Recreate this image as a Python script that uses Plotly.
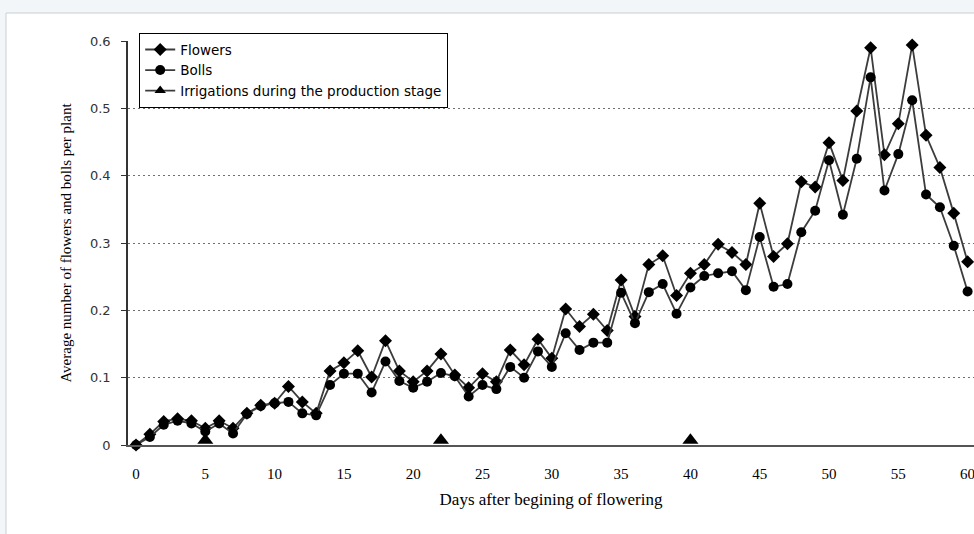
import plotly.graph_objects as go

days = list(range(0, 61))
flowers = [0.000, 0.016, 0.035, 0.039, 0.036, 0.025, 0.036, 0.025, 0.047, 0.059,
           0.062, 0.087, 0.064, 0.047, 0.110, 0.122, 0.140, 0.101, 0.155, 0.110,
           0.094, 0.110, 0.135, 0.104, 0.085, 0.106, 0.094, 0.141, 0.119, 0.157,
           0.129, 0.202, 0.176, 0.194, 0.170, 0.245, 0.191, 0.268, 0.281, 0.222,
           0.255, 0.268, 0.298, 0.286, 0.268, 0.359, 0.280, 0.299, 0.391, 0.383,
           0.449, 0.393, 0.496, 0.590, 0.431, 0.477, 0.594, 0.460, 0.412, 0.344,
           0.272]
bolls = [0.000, 0.012, 0.030, 0.036, 0.032, 0.020, 0.032, 0.017, 0.046, 0.058,
         0.062, 0.064, 0.047, 0.044, 0.089, 0.106, 0.106, 0.078, 0.124, 0.095,
         0.085, 0.094, 0.107, 0.102, 0.072, 0.089, 0.083, 0.116, 0.100, 0.139,
         0.116, 0.166, 0.141, 0.152, 0.152, 0.226, 0.181, 0.227, 0.239, 0.195,
         0.234, 0.251, 0.255, 0.258, 0.230, 0.309, 0.235, 0.239, 0.316, 0.348,
         0.423, 0.342, 0.425, 0.546, 0.378, 0.432, 0.512, 0.372, 0.353, 0.296,
         0.228]
irrigation_days = [5, 22, 40]
irrigation_y = [0.007, 0.007, 0.007]

x_ticks = list(range(0, 61, 5))
y_ticks = [0, 0.1, 0.2, 0.3, 0.4, 0.5, 0.6]
y_tick_labels = ["0", "0.1", "0.2", "0.3", "0.4", "0.5", "0.6"]

series_names = ["Flowers", "Bolls", "Irrigations during the production stage"]

line_color = "#3c3c3c"

fig = go.Figure()
fig.add_trace(go.Scatter(
    x=days, y=flowers, name=series_names[0], mode="lines+markers",
    line=dict(color=line_color, width=1.8),
    marker=dict(symbol="diamond", size=10, color="black"),
    cliponaxis=False))
fig.add_trace(go.Scatter(
    x=days, y=bolls, name=series_names[1], mode="lines+markers",
    line=dict(color=line_color, width=1.8),
    marker=dict(symbol="circle", size=10, color="black"),
    cliponaxis=False))
fig.add_trace(go.Scatter(
    x=irrigation_days, y=irrigation_y, name=series_names[2],
    mode="markers", showlegend=False,
    marker=dict(symbol="triangle-up", size=14, color="black"),
    cliponaxis=False))
# legend-only entry (line + triangle, as in the original legend)
fig.add_trace(go.Scatter(
    x=[None], y=[None], name=series_names[2], mode="lines+markers",
    line=dict(color=line_color, width=1.8),
    marker=dict(symbol="triangle-up", size=10, color="black")))

# white panel on light page background
L, R, T, B = 128, 974, 41, 445
W, H = R - L, B - T
def px(xp):
    return (xp - L) / W
def py(yp):
    return (B - yp) / H

fig.add_shape(type="rect", xref="paper", yref="paper",
              x0=px(6), x1=px(990), y0=py(560), y1=py(13),
              fillcolor="white", line=dict(color="#c9ced3", width=1), layer="below")

fig.update_layout(
    width=974, height=534,
    margin=dict(l=L, r=974 - R, t=T, b=534 - B),
    paper_bgcolor="#f2f6f9",
    plot_bgcolor="white",
    showlegend=True,
    legend=dict(
        x=px(139), y=py(33), xanchor="left", yanchor="top",
        bgcolor="white", bordercolor="black", borderwidth=1.2,
        font=dict(family="DejaVu Sans, Verdana", size=13.5, color="black"),
        tracegroupgap=0,
    ),
    xaxis=dict(
        range=[-0.577, 60.46],
        tickvals=x_ticks,
        ticks="", showgrid=False, zeroline=False,
        showline=True, linecolor="#555555", linewidth=2,
        tickfont=dict(family="Liberation Serif, Times New Roman", size=15, color="black"),
        ticklabelstandoff=14,
        ticklabeloverflow="allow",
        title=dict(text="Days after begining of flowering",
                   font=dict(family="Liberation Serif, Times New Roman", size=17, color="black"),
                   standoff=12),
    ),
    yaxis=dict(
        range=[0, 0.6],
        tickvals=y_ticks, ticktext=y_tick_labels,
        ticks="outside", ticklen=5, tickcolor="#333333",
        showline=True, linecolor="#333333", linewidth=1.5,
        showgrid=True, gridcolor="#707070", griddash="2px,3px", gridwidth=1,
        zeroline=False,
        tickfont=dict(family="DejaVu Sans, Verdana", size=13, color="#333333"),
        ticklabelstandoff=8,
        title=dict(text="Average number of flowers and bolls per plant",
                   font=dict(family="Liberation Serif, Times New Roman", size=15, color="black"),
                   standoff=15),
    ),
)

fig.write_html(
    "out.html",
    config={"displayModeBar": False},
    post_script="document.body.style.margin='0';document.body.style.background='#f2f6f9';",
)
